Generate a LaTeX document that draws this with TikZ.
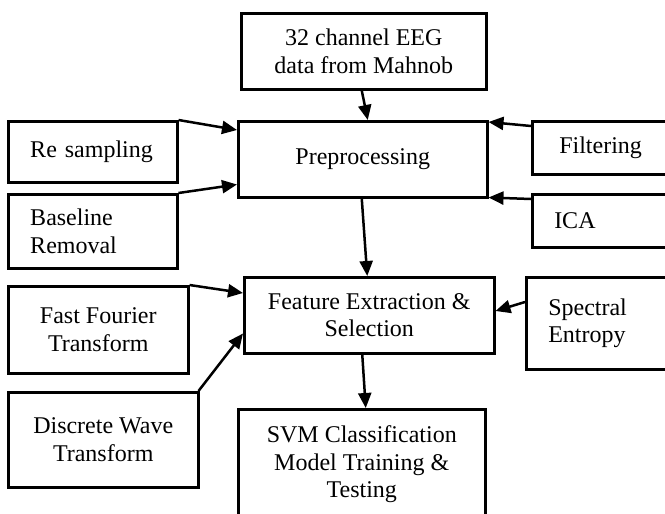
\documentclass[tikz,border=0pt]{standalone}
\usepackage{fontspec}
\setmainfont{Liberation Serif}
\usetikzlibrary{arrows.meta}
\begin{document}
\begin{tikzpicture}[x=1pt,y=-1pt,
  box/.style={draw=black, line width=2.5pt, anchor=north west, inner ysep=0pt,
    font=\fontsize{24}{27.5}\selectfont, align=center},
  lbox/.style={box, align=left},
  conn/.style={line width=2.5pt, -{Triangle[length=15pt,width=13pt]}}
]
\clip (0,0) rectangle (665,514);
% boxes
\node[box, minimum width=245pt, minimum height=76pt] (eeg) at (240,12) {32 channel EEG\\data from Mahnob};
\node[box, minimum width=249pt, minimum height=76pt] (prep) at (237,120) {Preprocessing};
\node[lbox, inner xsep=22pt, text width=125pt, minimum height=61pt] (rs) at (7,120) {Re sampling};
\node[lbox, inner xsep=22pt, text width=125pt, minimum height=74pt] (bl) at (7,193) {Baseline\\Removal};
\node[lbox, inner xsep=27pt, text width=126pt, minimum height=53pt] (filt) at (531,120) {Filtering};
\node[lbox, inner xsep=22pt, text width=136pt, minimum height=53pt] (ica) at (531,193) {ICA};
\node[box, minimum width=250pt, minimum height=76pt] (feat) at (243,276) {Feature Extraction \&\\Selection};
\node[box, minimum width=180pt, minimum height=87pt] (fft) at (7,285) {Fast Fourier\\Transform};
\node[lbox, inner xsep=22pt, text width=136pt, minimum height=92pt] (spec) at (525,276) {Spectral\\Entropy};
\node[box, minimum width=190pt, minimum height=95pt] (dwt) at (7,391) {Discrete Wave\\Transform};
\node[box, minimum width=247pt, minimum height=110pt] (svm) at (237,408) {SVM Classification\\Model Training \&\\Testing};
% connectors
\draw[conn] ([xshift=-2pt]eeg.south) -- ([xshift=5pt]prep.north);
\draw[conn] (rs.north east) -- ([yshift=-10pt]prep.north west);
\draw[conn] (bl.north east) -- ([yshift=14pt]prep.south west);
\draw[conn] ([yshift=-6pt]filt.north west) -- ([yshift=-2pt]prep.north east);
\draw[conn] ([yshift=-6pt]ica.north west) -- ([yshift=1pt]prep.south east);
\draw[conn] ([xshift=-1pt]prep.south) -- ([xshift=-2pt]feat.north);
\draw[conn] (fft.north east) -- ([yshift=-17pt]feat.north west);
\draw[conn] ([xshift=-1pt]dwt.north east) -- ([yshift=21pt]feat.south west);
\draw[conn] ([yshift=-26pt]spec.north west) -- ([yshift=-35pt]feat.north east);
\draw[conn] ([xshift=-7pt]feat.south) -- ([xshift=4pt]svm.north);
\end{tikzpicture}
\end{document}
